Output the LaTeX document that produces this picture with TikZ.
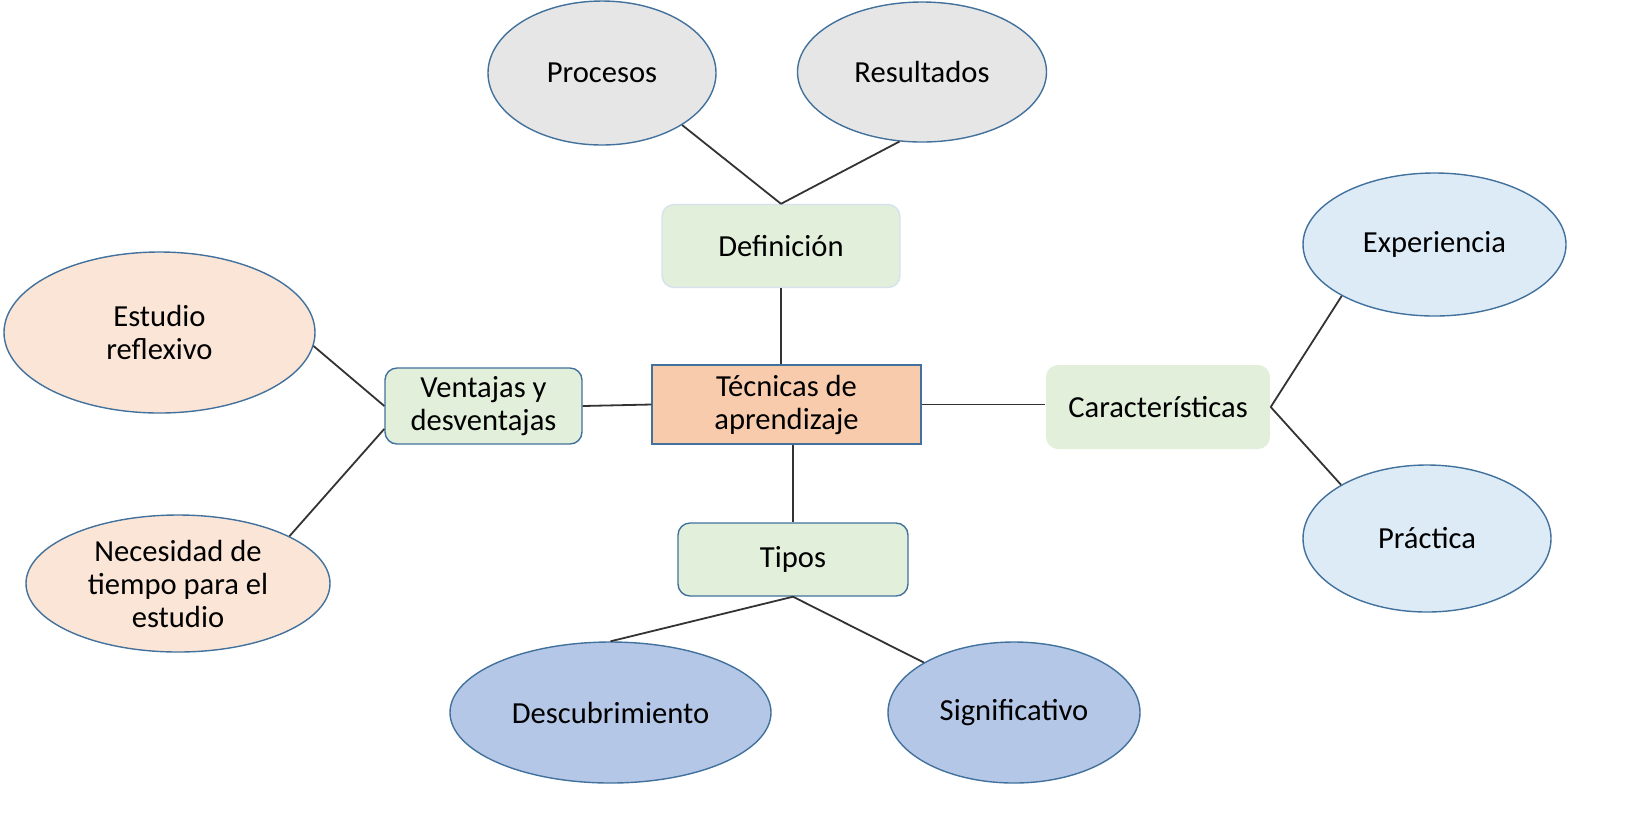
\documentclass[tikz,border=0pt]{standalone}
\usepackage{xcolor}
\usepackage{fontspec}
\setmainfont{Carlito}
\usetikzlibrary{shapes.geometric}

\definecolor{outlineBlue}{HTML}{41719C}
\definecolor{faintBlue}{HTML}{D6E2F0}
\definecolor{boxGreen}{HTML}{E2EFDA}
\definecolor{boxPeach}{HTML}{F8CBAD}
\definecolor{ovalGray}{HTML}{E7E6E6}
\definecolor{ovalPeach}{HTML}{FBE5D6}
\definecolor{ovalSky}{HTML}{DDEBF7}
\definecolor{ovalBlue}{HTML}{B4C7E7}
\definecolor{lineGray}{HTML}{333333}

\begin{document}
\begin{tikzpicture}[x=0.5pt, y=-0.5pt,
        every node/.style={font=\fontsize{15.3}{16.5}\selectfont, align=center, inner sep=0pt}]
        \useasboundingbox (0,0) rectangle (1648,827);
        \tikzstyle{topic} = [draw=outlineBlue, line width=0.7pt, fill=boxGreen,
            rectangle, rounded corners=6pt]
        \tikzstyle{oval} = [draw=outlineBlue, line width=0.7pt, ellipse]
        \tikzstyle{link} = [lineGray, line width=0.9pt];

        % centre
        \node[draw=outlineBlue, line width=0.7pt, fill=boxPeach, rectangle,
            minimum width=134.5pt, minimum height=39.5pt] (nodeTec) at (786.5,404.5)
            {Técnicas de\\aprendizaje};

        % branches
        \node[topic, draw=faintBlue, minimum width=119pt, minimum height=41.5pt]
            (nodeDef) at (781,246) {Definición};
        \node[topic, minimum width=98.5pt, minimum height=38pt]
            (nodeVen) at (483.5,406) {Ventajas y\\desventajas};
        \node[topic, draw=none, minimum width=112pt, minimum height=42pt]
            (nodeCar) at (1158,407) {Características};
        \node[topic, minimum width=115pt, minimum height=36.5pt]
            (nodeTip) at (793,559.5) {Tipos};

        % leaves
        \node[oval, fill=ovalGray, minimum width=114pt, minimum height=72pt]
            (nodeProc) at (602,73) {Procesos};
        \node[oval, fill=ovalGray, minimum width=124.5pt, minimum height=70pt]
            (nodeRes) at (922,72) {Resultados};
        \node[oval, fill=ovalPeach, minimum width=155.5pt, minimum height=80.5pt]
            (nodeEst) at (159.5,332.5) {Estudio\\reflexivo};
        \node[oval, fill=ovalPeach, minimum width=152pt, minimum height=68.5pt]
            (nodeNec) at (178,583.5) {Necesidad de\\tiempo para el\\estudio};
        \node[oval, fill=ovalSky, minimum width=131.5pt, minimum height=71.5pt]
            (nodeExp) at (1434.5,244.5) {Experiencia};
        \node[oval, fill=ovalSky, minimum width=124pt, minimum height=73.5pt]
            (nodePra) at (1427,538.5) {Práctica};
        \node[oval, fill=ovalBlue, minimum width=160.5pt, minimum height=70.5pt]
            (nodeDes) at (610.5,712.5) {Descubrimiento};
        \node[oval, fill=ovalBlue, minimum width=126pt, minimum height=70.5pt]
            (nodeSig) at (1014,712.5) {Significativo};

        \draw (nodeDef.south)
        edge[link] (nodeDef.south |- nodeTec.north);
        \draw (nodeTec.west)
        edge[link] (nodeVen.east);
        \draw (nodeTec.east)
        edge[link] (nodeTec.east -| nodeCar.west);
        \draw (nodeTip.north |- nodeTec.south)
        edge[link] (nodeTip.north);

        \draw (nodeDef.north)
        edge[link] (nodeProc.-33);
        \draw (nodeDef.north)
        edge[link] (nodeRes.-108);
        \draw (nodeVen.west)
        edge[link] (nodeEst.-5);
        \draw (nodeVen.193)
        edge[link] (nodeNec.23);
        \draw (nodeCar.east)
        edge[link] (nodeExp.209);
        \draw (nodeCar.east)
        edge[link] (nodePra.148);
        \draw (nodeTip.south)
        edge[link] (nodeDes.north);
        \draw (nodeTip.south)
        edge[link] (nodeSig.151);
    \end{tikzpicture}
\end{document}
